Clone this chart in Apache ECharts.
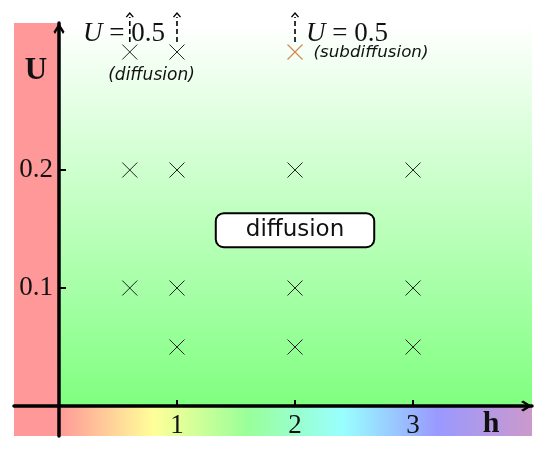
<!DOCTYPE html>
<html>
<head>
<meta charset="utf-8">
<script src="https://cdn.jsdelivr.net/npm/echarts@6/dist/echarts.min.js"></script>
<style>html,body{margin:0;padding:0;background:#fff;}#c{width:545px;height:453px;}</style>
</head>
<body>
<div id="c"></div>
<script>
// ---- data ----
const xRange = [-0.381, 4.008];
const yRange = [-0.0254, 0.3246];
const xTicks = [1, 2, 3];
const yTicks = [0.1, 0.2];
const diffusionPoints = [
  [0.6, 0.2], [1, 0.2], [2, 0.2], [3, 0.2],
  [0.6, 0.1], [1, 0.1], [2, 0.1], [3, 0.1],
  [1, 0.05], [2, 0.05], [3, 0.05],
  [0.6, 0.3], [1, 0.3]
];
const subdiffusionPoints = [[2, 0.3]];
const arrowX = [0.6, 1, 2];
const arrowFromTo = [0.3085, 0.333];
const annotationText = ['U = 0.5', 'U = 0.5', '(diffusion)', '(subdiffusion)', 'diffusion', 'U', 'h'];
const annotationPos = [[0.551, 0.3153], [2.441, 0.3153], [0.784, 0.2797], [2.644, 0.2992], [2.0, 0.149], [-0.195, 0.284], [3.661, -0.0153]];

const serif = '"Liberation Serif", "DejaVu Serif", serif';
const sans = '"DejaVu Sans", sans-serif';
const ink = '#111';
const labelStyles = [
  { formatter: '{i|U} = 0.5', fontFamily: serif, fontSize: 27, color: ink, rich: { i: { fontFamily: serif, fontStyle: 'italic', fontSize: 27, color: ink } } },
  { formatter: '{i|U} = 0.5', fontFamily: serif, fontSize: 27, color: ink, rich: { i: { fontFamily: serif, fontStyle: 'italic', fontSize: 27, color: ink } } },
  { fontFamily: sans, fontStyle: 'italic', fontSize: 17, color: ink },
  { fontFamily: sans, fontStyle: 'italic', fontSize: 16.7, color: ink },
  { fontFamily: sans, fontSize: 23, color: ink, backgroundColor: '#fff', borderColor: '#000', borderWidth: 2, borderRadius: 7, padding: [5, 29, 4, 29] },
  { fontFamily: serif, fontWeight: 'bold', fontSize: 31, color: ink },
  { fontFamily: serif, fontWeight: 'bold', fontSize: 30, color: ink }
];

const chart = echarts.init(document.getElementById('c'));
const crossSymbol = 'path://M0,0L10,10M10,0L0,10';
const arrowSymbol = 'path://M5,0 L10,8 L8.6,10 L5,3.8 L1.4,10 L0,8 Z';

chart.setOption({
  animation: false,
  backgroundColor: '#fff',
  grid: { left: 14, right: 13, top: 23, bottom: 17, containLabel: false, outerBoundsMode: 'none' },
  xAxis: {
    type: 'value', min: xRange[0], max: xRange[1], z: 10,
    position: 'bottom', offset: -30,
    splitLine: { show: false },
    axisLine: { onZero: false, lineStyle: { color: '#000', width: 3.5 },
      symbol: ['none', arrowSymbol], symbolSize: [17, 11], symbolOffset: [0, -5.5] },
    axisTick: { show: true, inside: true, length: 6, lineStyle: { color: '#000', width: 2 }, customValues: xTicks },
    axisLabel: { show: true, margin: 6, fontFamily: serif, fontSize: 27, color: ink, customValues: xTicks }
  },
  yAxis: {
    type: 'value', min: yRange[0], max: yRange[1], z: 10,
    position: 'left', offset: -45,
    splitLine: { show: false },
    axisLine: { onZero: false, lineStyle: { color: '#000', width: 3.5 },
      symbol: ['none', arrowSymbol], symbolSize: [17, 11], symbolOffset: [0, -5.5] },
    axisTick: { show: true, inside: true, length: 7, lineStyle: { color: '#000', width: 2 }, customValues: yTicks },
    axisLabel: { show: true, margin: 6, fontFamily: serif, fontSize: 27, color: ink, customValues: yTicks }
  },
  series: [
    {
      type: 'scatter', data: [], z: 0, silent: true,
      markArea: {
        silent: true,
        data: [
          [{ xAxis: xRange[0], yAxis: yRange[0], itemStyle: { color: '#ff9999', opacity: 1 } }, { xAxis: 0, yAxis: yRange[1] }],
          [{ xAxis: 0, yAxis: 0, itemStyle: { opacity: 1, color: new echarts.graphic.LinearGradient(0, 0, 0, 1, [
              { offset: 0, color: '#ffffff' }, { offset: 1, color: '#80ff80' }]) } },
           { xAxis: xRange[1], yAxis: yRange[1] }],
          [{ xAxis: 0, yAxis: yRange[0], itemStyle: { opacity: 1, color: new echarts.graphic.LinearGradient(0, 0, 1, 0, [
              { offset: 0, color: '#ff9999' }, { offset: 0.2, color: '#ffff99' }, { offset: 0.4, color: '#99ff99' },
              { offset: 0.6, color: '#99ffff' }, { offset: 0.8, color: '#9999ff' }, { offset: 1, color: '#cc99cc' }]) } },
           { xAxis: xRange[1], yAxis: 0 }]
        ]
      }
    },
    {
      type: 'scatter', data: diffusionPoints, symbol: crossSymbol, symbolSize: 15, z: 5,
      itemStyle: { color: 'none', borderColor: '#222', borderWidth: 1, opacity: 1 }
    },
    {
      type: 'scatter', data: subdiffusionPoints, symbol: crossSymbol, symbolSize: 15, z: 5,
      itemStyle: { color: 'none', borderColor: '#d08a50', borderWidth: 1.2, opacity: 1 }
    },
    {
      type: 'custom', z: 6, clip: false,
      data: arrowX.map(x => [x, arrowFromTo[0], arrowFromTo[1]]),
      renderItem: function (params, api) {
        const p0 = api.coord([api.value(0), api.value(1)]);
        const p1 = api.coord([api.value(0), api.value(2)]);
        return {
          type: 'group',
          children: [
            { type: 'line', shape: { x1: p0[0], y1: p0[1], x2: p1[0], y2: p1[1] + 4 },
              style: { stroke: '#000', lineWidth: 1.6, lineDash: [5, 3] } },
            { type: 'polyline', shape: { points: [[p1[0] - 3.5, p1[1] + 4], [p1[0], p1[1]], [p1[0] + 3.5, p1[1] + 4]] },
              style: { stroke: '#000', lineWidth: 1.4, fill: null } }
          ]
        };
      }
    },
    {
      type: 'scatter', z: 8, symbolSize: 0, silent: true,
      itemStyle: { opacity: 1 },
      data: annotationText.map((t, i) => ({
        value: annotationPos[i], name: t,
        label: Object.assign({ show: true, position: 'inside', formatter: t, opacity: 1 }, labelStyles[i])
      }))
    }
  ]
});
</script>
</body>
</html>
